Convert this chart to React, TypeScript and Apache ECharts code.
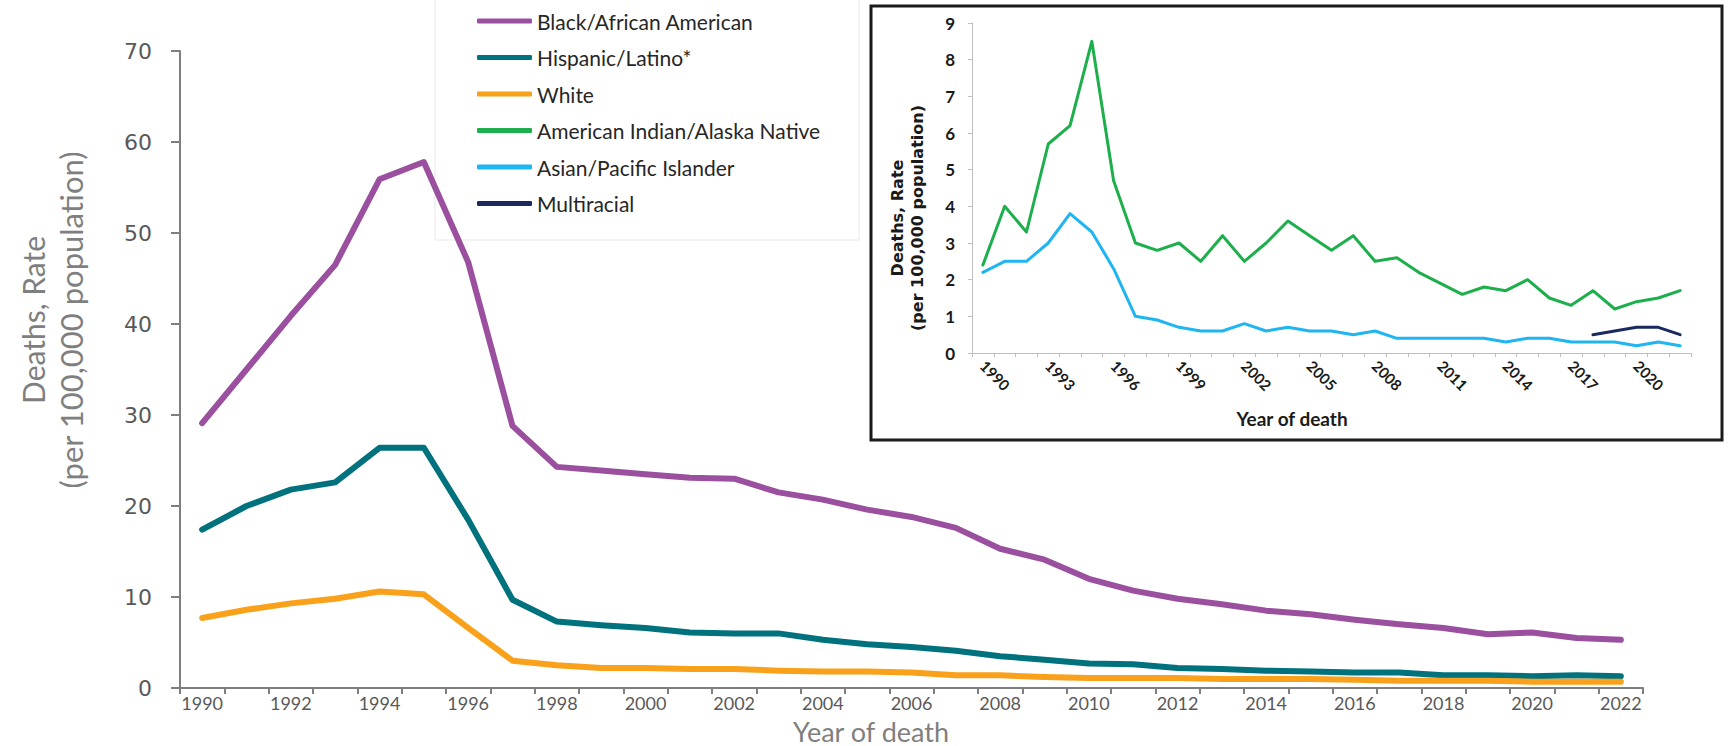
import React, { useEffect, useRef } from "react";
import * as echarts from "echarts";

const years = [
  "1990", "1991", "1992", "1993", "1994", "1995", "1996", "1997", "1998", "1999",
  "2000", "2001", "2002", "2003", "2004", "2005", "2006", "2007", "2008", "2009",
  "2010", "2011", "2012", "2013", "2014", "2015", "2016", "2017", "2018", "2019",
  "2020", "2021", "2022",
];

const black = [
  29.1, 35.0, 40.9, 46.5, 55.9, 57.8, 46.8, 28.8, 24.3, 23.9,
  23.5, 23.1, 23.0, 21.5, 20.7, 19.6, 18.8, 17.6, 15.3, 14.1,
  12.0, 10.7, 9.8, 9.2, 8.5, 8.1, 7.5, 7.0, 6.6, 5.9,
  6.1, 5.5, 5.3,
];
const hispanic = [
  17.4, 20.0, 21.8, 22.6, 26.4, 26.4, 18.5, 9.7, 7.3, 6.9,
  6.6, 6.1, 6.0, 6.0, 5.3, 4.8, 4.5, 4.1, 3.5, 3.1,
  2.7, 2.6, 2.2, 2.1, 1.9, 1.8, 1.7, 1.7, 1.4, 1.4,
  1.3, 1.4, 1.3,
];
const white = [
  7.7, 8.6, 9.3, 9.8, 10.6, 10.3, 6.6, 3.0, 2.5, 2.2,
  2.2, 2.1, 2.1, 1.9, 1.8, 1.8, 1.7, 1.4, 1.4, 1.2,
  1.1, 1.1, 1.1, 1.0, 1.0, 1.0, 0.9, 0.8, 0.8, 0.8,
  0.7, 0.7, 0.7,
];
const aian = [
  2.4, 4.0, 3.3, 5.7, 6.2, 8.5, 4.7, 3.0, 2.8, 3.0,
  2.5, 3.2, 2.5, 3.0, 3.6, 3.2, 2.8, 3.2, 2.5, 2.6,
  2.2, 1.9, 1.6, 1.8, 1.7, 2.0, 1.5, 1.3, 1.7, 1.2,
  1.4, 1.5, 1.7,
];
const api = [
  2.2, 2.5, 2.5, 3.0, 3.8, 3.3, 2.3, 1.0, 0.9, 0.7,
  0.6, 0.6, 0.8, 0.6, 0.7, 0.6, 0.6, 0.5, 0.6, 0.4,
  0.4, 0.4, 0.4, 0.4, 0.3, 0.4, 0.4, 0.3, 0.3, 0.3,
  0.2, 0.3, 0.2,
];
const multiracial = [
  null, null, null, null, null, null, null, null, null, null,
  null, null, null, null, null, null, null, null, null, null,
  null, null, null, null, null, null, null, null, 0.5, 0.6,
  0.7, 0.7, 0.5,
];

const seriesNames = [
  "Black/African American",
  "Hispanic/Latino*",
  "White",
  "American Indian/Alaska Native",
  "Asian/Pacific Islander",
  "Multiracial",
];
const seriesColors = ["#9B4F9F", "#00727E", "#F9A11B", "#1DAF4C", "#1FB5F0", "#1B2A5E"];

const mainYTicks = { min: 0, max: 70, interval: 10 };
const insetYTicks = { min: 0, max: 9, interval: 1 };

export default function App() {
  const ref = useRef<HTMLDivElement>(null);

  useEffect(() => {
    if (!ref.current) return;
    const chart = echarts.init(ref.current, undefined, { renderer: "svg" });

    const mainFont = "Lato, 'Open Sans', sans-serif";

    const mk = (i: number, data: (number | null)[], axis: number, width: number) => ({
      name: seriesNames[i],
      type: "line",
      xAxisIndex: axis,
      yAxisIndex: axis,
      data,
      symbol: "none",
      showSymbol: false,
      connectNulls: false,
      color: seriesColors[i],
      lineStyle: { color: seriesColors[i], width, cap: "round", join: "round" },
      z: 3,
    });

    chart.setOption({
      animation: false,
      backgroundColor: "#ffffff",
      grid: [
        { left: 180, top: 51, width: 1463, height: 637, containLabel: false },
        { left: 972, top: 23, width: 719, height: 330, containLabel: false },
      ],
      legend: {
        data: seriesNames,
        orient: "vertical",
        left: 477,
        top: 9,
        padding: 0,
        itemGap: 12.5,
        itemWidth: 55,
        itemHeight: 5,
        icon: "roundRect",
        selectedMode: false,
        textStyle: {
          fontFamily: mainFont,
          fontSize: 21,
          lineHeight: 24,
          color: "#262626",
        },
      },
      xAxis: [
        {
          type: "category",
          gridIndex: 0,
          data: years,
          boundaryGap: true,
          axisLine: { lineStyle: { color: "#7f7f7f", width: 2 } },
          axisTick: { show: true, interval: 0, length: 6, lineStyle: { color: "#7f7f7f", width: 2 } },
          axisLabel: {
            interval: 1,
            margin: 6,
            color: "#595959",
            fontFamily: mainFont,
            fontSize: 18,
            lineHeight: 18,
          },
          splitLine: { show: false },
        },
        {
          type: "category",
          gridIndex: 1,
          data: years,
          boundaryGap: true,
          axisLine: { lineStyle: { color: "#bfbfbf", width: 1 } },
          axisTick: { show: true, interval: 0, length: 4, lineStyle: { color: "#bfbfbf" } },
          axisLabel: {
            interval: 2,
            rotate: -45,
            margin: 10,
            color: "#1a1a1a",
            fontFamily: mainFont,
            fontWeight: "bold",
            fontSize: 15,
          },
          splitLine: { show: false },
        },
      ],
      yAxis: [
        {
          type: "value",
          gridIndex: 0,
          min: mainYTicks.min,
          max: mainYTicks.max,
          interval: mainYTicks.interval,
          axisLine: { show: true, lineStyle: { color: "#7f7f7f", width: 2 } },
          axisTick: { show: true, length: 9, lineStyle: { color: "#7f7f7f", width: 2 } },
          axisLabel: {
            margin: 28,
            color: "#595959",
            fontFamily: "'DejaVu Sans', sans-serif",
            fontSize: 22,
          },
          splitLine: { show: false },
        },
        {
          type: "value",
          gridIndex: 1,
          min: insetYTicks.min,
          max: insetYTicks.max,
          interval: insetYTicks.interval,
          axisLine: { show: true, lineStyle: { color: "#bfbfbf", width: 1 } },
          axisTick: { show: true, length: 4, lineStyle: { color: "#bfbfbf" } },
          axisLabel: {
            margin: 17,
            color: "#1a1a1a",
            fontFamily: mainFont,
            fontWeight: "bold",
            fontSize: 17,
          },
          splitLine: { show: false },
        },
      ],
      graphic: [
        {
          type: "rect",
          shape: { x: 435, y: -2, width: 424, height: 242 },
          style: { fill: "none", stroke: "#e8e8e8", lineWidth: 1 },
          silent: true,
          z: 0,
        },
        {
          type: "rect",
          shape: { x: 871, y: 6, width: 851, height: 434 },
          style: { fill: "none", stroke: "#1a1a1a", lineWidth: 3 },
          silent: true,
          z: 0,
        },
        {
          type: "text",
          x: 33,
          y: 320,
          rotation: Math.PI / 2,
          style: {
            text: "Deaths, Rate",
            align: "center",
            verticalAlign: "middle",
            fill: "#7f7f7f",
            font: "30px Lato, sans-serif",
          },
        },
        {
          type: "text",
          x: 71,
          y: 320,
          rotation: Math.PI / 2,
          style: {
            text: "(per 100,000 population)",
            align: "center",
            verticalAlign: "middle",
            fill: "#7f7f7f",
            font: "31px Lato, sans-serif",
          },
        },
        {
          type: "text",
          x: 871,
          y: 731,
          style: {
            text: "Year of death",
            align: "center",
            verticalAlign: "middle",
            fill: "#7f7f7f",
            font: "27px Lato, sans-serif",
          },
        },
        {
          type: "text",
          x: 897,
          y: 218,
          rotation: Math.PI / 2,
          style: {
            text: "Deaths, Rate",
            align: "center",
            verticalAlign: "middle",
            fill: "#1a1a1a",
            font: "bold 16px 'DejaVu Sans', sans-serif",
          },
        },
        {
          type: "text",
          x: 917,
          y: 218,
          rotation: Math.PI / 2,
          style: {
            text: "(per 100,000 population)",
            align: "center",
            verticalAlign: "middle",
            fill: "#1a1a1a",
            font: "bold 16px 'DejaVu Sans', sans-serif",
          },
        },
        {
          type: "text",
          x: 1292,
          y: 418,
          style: {
            text: "Year of death",
            align: "center",
            verticalAlign: "middle",
            fill: "#1a1a1a",
            font: "bold 19px Lato, sans-serif",
          },
        },
      ],
      series: [
        mk(0, black, 0, 6),
        mk(1, hispanic, 0, 6),
        mk(2, white, 0, 6),
        mk(3, aian, 1, 3),
        mk(4, api, 1, 3),
        mk(5, multiracial, 1, 3),
      ],
    });

    return () => {
      chart.dispose();
    };
  }, []);

  return (
    <div
      ref={ref}
      style={{ position: "fixed", left: 0, top: 0, width: 1729, height: 746, background: "#fff" }}
    />
  );
}
